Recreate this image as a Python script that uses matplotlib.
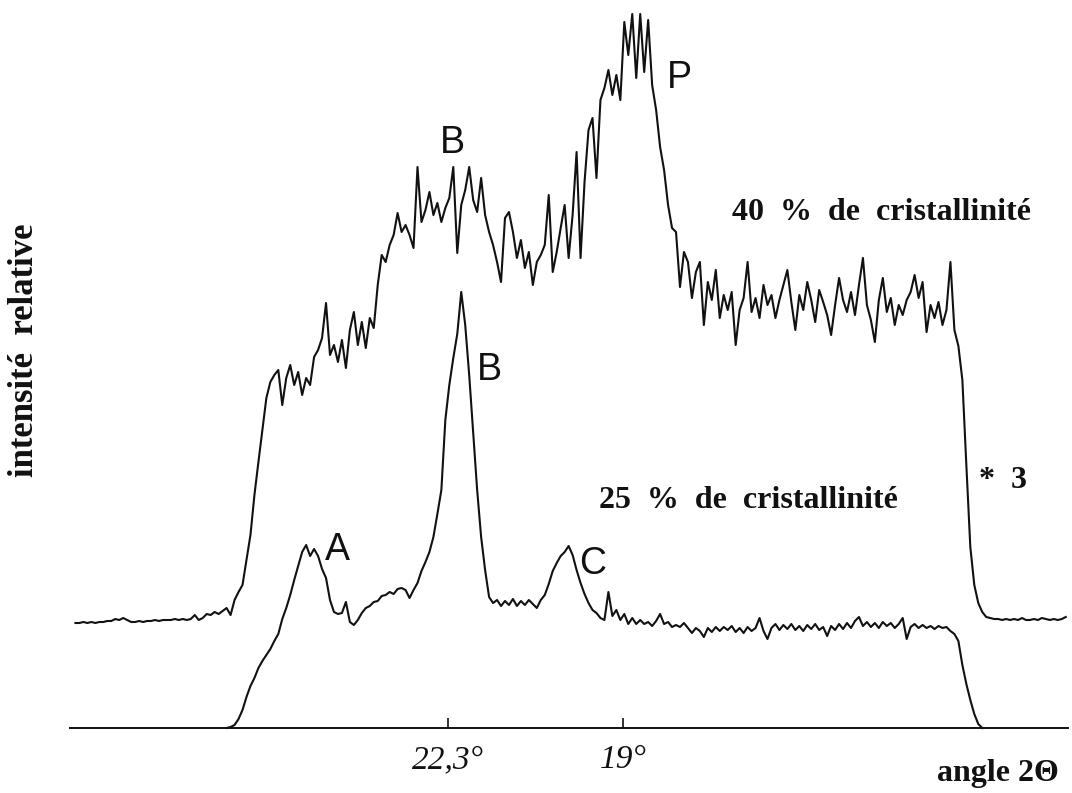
import numpy as np
import matplotlib
matplotlib.use("Agg")
import matplotlib.pyplot as plt

# Diffractometer scan: 2-theta grid (degrees), decreasing from left to right
step = 0.075
upper_start = 29.325
lower_start = 26.475

# 40 % crystallinity sample (background ~0), drawn with a vertical offset
upper_counts = [
    -3, -3, -2, -3, -2, -3, -2, -2, -1, -1,
    1, 0, 2, 0, -2, -2, -1, -2, -1, -1,
    0, -1, 0, 0, 0, 1, 0, 1, 0, 1,
    5, 0, 2, 6, 5, 8, 6, 9, 12, 5,
    20, 28, 35, 60, 85, 125, 158, 190, 222, 238,
    245, 250, 215, 242, 255, 235, 248, 225, 242, 235,
    263, 270, 282, 317, 265, 275, 258, 280, 252, 290,
    308, 275, 298, 272, 302, 292, 335, 365, 358, 375,
    385, 407, 388, 395, 385, 372, 453, 398, 410, 428,
    405, 417, 398, 412, 422, 453, 367, 415, 430, 453,
    420, 408, 442, 405, 388, 375, 358, 338, 402, 408,
    388, 362, 380, 352, 368, 335, 358, 365, 375, 425,
    348, 368, 392, 415, 362, 405, 468, 362, 438, 490,
    502, 442, 520, 532, 550, 525, 545, 520, 598, 565,
    606, 542, 606, 548, 600, 535, 510, 473, 450, 415,
    392, 388, 333, 368, 358, 322, 348, 358, 295, 338,
    320, 350, 302, 325, 310, 328, 275, 310, 322, 358,
    308, 322, 302, 335, 315, 325, 302, 320, 335, 350,
    318, 290, 325, 310, 338, 320, 298, 330, 318, 305,
    285, 315, 342, 320, 308, 328, 305, 335, 362, 315,
    300, 278, 320, 342, 308, 322, 295, 315, 305, 320,
    328, 345, 322, 338, 288, 315, 302, 318, 295, 310,
    358, 290, 274, 240, 155, 73, 35, 17, 8, 3,
    2, 1, 1, 0, 1, 0, 1, 0, 2, 0,
    0, 1, 0, 2, 1, 0, 1, 0, 1, 3,
]
upper_offset = 108

# 25 % crystallinity sample
lower_counts = [
    0, 1, 3, 9, 18, 31, 42, 50, 60, 67,
    73, 79, 87, 94, 109, 120, 133, 148, 162, 176,
    183, 172, 179, 172, 159, 150, 128, 116, 114, 115,
    126, 106, 103, 108, 115, 120, 122, 126, 127, 132,
    133, 136, 134, 139, 140, 138, 130, 138, 145, 157,
    166, 176, 191, 214, 238, 308, 343, 370, 394, 436,
    403, 353, 296, 238, 191, 158, 131, 125, 128, 122,
    127, 123, 129, 122, 127, 123, 128, 124, 120, 128,
    133, 144, 157, 165, 172, 176, 182, 173, 158, 145,
    134, 125, 118, 115, 110, 108, 136, 112, 118, 108,
    114, 104, 110, 104, 108, 104, 106, 102, 107, 114,
    104, 106, 101, 103, 101, 105, 100, 95, 100, 97,
    91, 100, 96, 101, 97, 101, 98, 102, 96, 100,
    95, 101, 97, 100, 110, 97, 89, 100, 104, 98,
    103, 99, 104, 98, 102, 97, 103, 99, 104, 98,
    101, 92, 102, 98, 104, 99, 105, 100, 107, 111,
    102, 106, 101, 105, 100, 106, 102, 105, 100, 104,
    110, 89, 101, 104, 100, 103, 100, 102, 99, 102,
    100, 101, 97, 94, 87, 63, 44, 28, 14, 4,
    0,
]

tick_angles = [22.3, 19.0]
tick_labels = ["22,3°", "19°"]

serif = ["Liberation Serif", "DejaVu Serif"]
sans = ["Liberation Sans", "DejaVu Sans"]
ink = "#111111"

upper_theta = upper_start - step * np.arange(len(upper_counts))
lower_theta = lower_start - step * np.arange(len(lower_counts))

fig = plt.figure(figsize=(10.72, 7.93), dpi=100)
ax = fig.add_axes([70 / 1072, 65 / 793, 998 / 1072, 728 / 793])

ax.plot(upper_theta, np.array(upper_counts) + upper_offset, color=ink, lw=1.5,
        clip_on=False)
ax.plot(lower_theta, lower_counts, color=ink, lw=1.5, clip_on=False)

ax.set_xlim(29.428, 10.608)
ax.set_ylim(0, 728)

for side in ("left", "top", "right"):
    ax.spines[side].set_visible(False)
ax.spines["bottom"].set_linewidth(1.4)
ax.spines["bottom"].set_color(ink)
ax.set_yticks([])
ax.set_xticks(tick_angles, labels=tick_labels)
ax.tick_params(axis="x", direction="in", length=7.5, width=1.2, color=ink, pad=12)
for lab in ax.get_xticklabels():
    lab.set_fontfamily(serif)
    lab.set_fontstyle("italic")
    lab.set_fontsize(24)
    lab.set_color(ink)

# Peak letters
peak_kw = dict(family=sans, fontsize=27, color=ink, ha="center", va="center")
ax.text(22.21, 585, "B", **peak_kw)
ax.text(17.93, 650, "P", **peak_kw)
ax.text(21.51, 358, "B", **peak_kw)
ax.text(24.39, 178, "A", **peak_kw)
ax.text(19.58, 164, "C", **peak_kw)

lab_kw = dict(family=serif, fontweight="bold", fontsize=23, color=ink,
              ha="center", va="center")
ax.text(14.13, 516, "40  %  de  cristallinité", **lab_kw)
ax.text(16.64, 228, "25  %  de  cristallinité", **lab_kw)
ax.text(11.83, 248, "*  3", **lab_kw)
ax.text(11.93, -46, "angle 2Θ", clip_on=False, **lab_kw)

fig.text(25 / 1072, 1 - 350 / 793, "intensité  relative", rotation=90,
         family=serif, fontweight="bold", fontsize=25, color=ink,
         ha="center", va="center")

fig.savefig("out.png", dpi=100, facecolor="white")
